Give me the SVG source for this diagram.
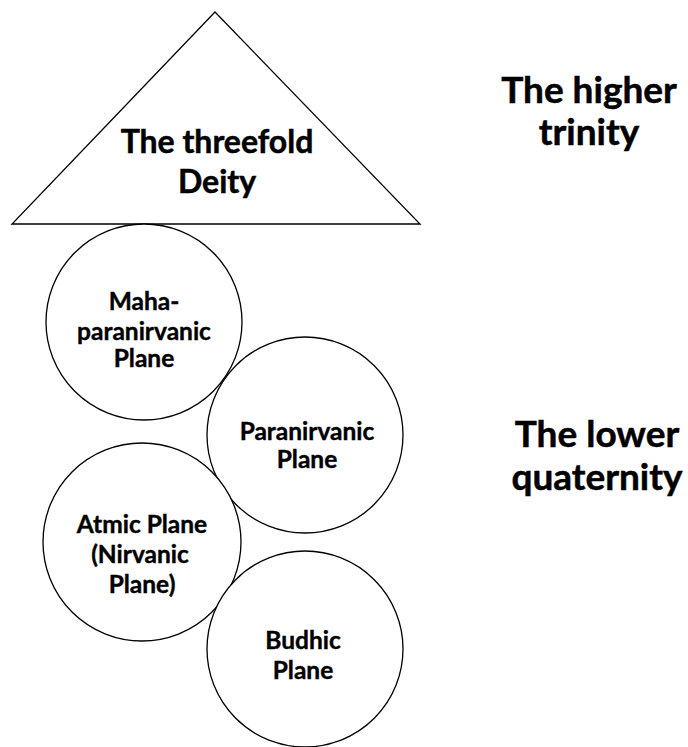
<svg xmlns="http://www.w3.org/2000/svg" width="688" height="747" viewBox="0 0 688 747">
  <style>
    .shape { fill: #ffffff; stroke: #000000; stroke-width: 1.3; }
    .lbl { font-family: Lato, "Open Sans", "Liberation Sans", sans-serif; font-weight: bold; fill: #000000; stroke: #000000; stroke-width: 0.5; text-anchor: middle; }
    .big { font-size: 37px; }
    .tri { font-size: 32px; }
    .node { font-size: 24.5px; stroke-width: 0.4; }
  </style>
  <rect width="688" height="747" fill="#ffffff"/>

  <g id="deity">
    <polygon class="shape" points="215,12 420,224 12,224"/>
    <text class="lbl tri" x="217" y="153">The threefold</text>
    <text class="lbl tri" x="217" y="193">Deity</text>
  </g>

  <g id="maha-paranirvanic">
    <circle class="shape" cx="144" cy="322" r="98"/>
    <text class="lbl node" x="144" y="310">Maha-</text>
    <text class="lbl node" x="144" y="340">paranirvanic</text>
    <text class="lbl node" x="144" y="367">Plane</text>
  </g>

  <g id="paranirvanic">
    <circle class="shape" cx="305" cy="435" r="98"/>
    <text class="lbl node" x="307" y="440">Paranirvanic</text>
    <text class="lbl node" x="307" y="468">Plane</text>
  </g>

  <g id="atmic">
    <circle class="shape" cx="142" cy="542" r="99"/>
    <text class="lbl node" x="142" y="533">Atmic Plane</text>
    <text class="lbl node" x="140" y="563">(Nirvanic</text>
    <text class="lbl node" x="142" y="593">Plane)</text>
  </g>

  <g id="budhic">
    <circle class="shape" cx="305" cy="649" r="98"/>
    <text class="lbl node" x="303" y="649">Budhic</text>
    <text class="lbl node" x="303" y="679">Plane</text>
  </g>

  <g id="higher-trinity">
    <text class="lbl big" x="589" y="103">The higher</text>
    <text class="lbl big" x="589" y="145">trinity</text>
  </g>

  <g id="lower-quaternity">
    <text class="lbl big" x="597" y="447">The lower</text>
    <text class="lbl big" x="597" y="490">quaternity</text>
  </g>

  <g id="connectors"></g>
</svg>
